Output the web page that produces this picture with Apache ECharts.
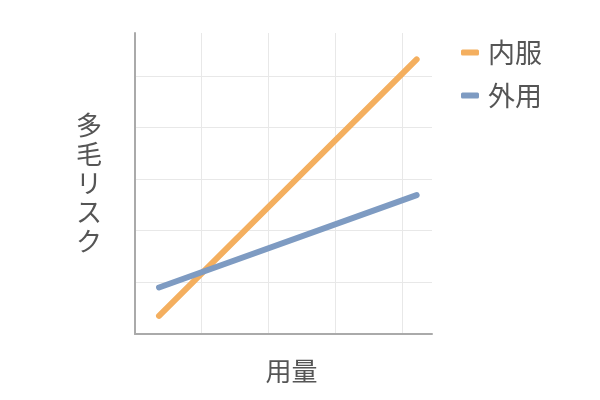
<!DOCTYPE html>
<html><head><meta charset="utf-8">
<script src="https://cdn.jsdelivr.net/npm/echarts@6/dist/echarts.min.js"></script>
<style>html,body{margin:0;padding:0;background:#fff}#c{width:600px;height:400px}</style>
</head><body><div id="c"></div>
<script>
const seriesNames = ['内服', '外用'];
const doseValues = [0.36, 4.22];
const oralRisk = [0.35, 5.32];
const topicalRisk = [0.9, 2.69];
const xTitle = '用量';
const yTitle = '多毛リスク';

const font = '"Noto Sans CJK JP", "Noto Sans", sans-serif';
const chart = echarts.init(document.getElementById('c'));
chart.setOption({
  animation: false,
  textStyle: { fontFamily: font },
  grid: { left: 135, right: 168, top: 33, bottom: 66 },
  legend: {
    orient: 'vertical', left: 456, top: 34,
    itemWidth: 18, itemHeight: 6, itemGap: 16,
    icon: 'roundRect',
    textStyle: { fontSize: 27, color: '#555', fontFamily: font, padding: [0, 0, 0, 4] },
    data: seriesNames
  },
  xAxis: {
    type: 'value', min: 0, max: 4.45, interval: 1,
    name: xTitle, nameLocation: 'middle', nameGap: 24,
    nameTextStyle: { fontSize: 26, color: '#555', fontFamily: font, verticalAlign: 'top', padding: [0, 0, 0, 16] },
    axisLine: { show: true, lineStyle: { color: '#aaa', width: 2 } },
    axisTick: { show: false }, axisLabel: { show: false },
    splitLine: { show: true, showMinLine: false, showMaxLine: false, lineStyle: { color: '#e8e8e8', width: 1 } }
  },
  yAxis: {
    type: 'value', min: 0, max: 5.83, interval: 1,
    name: yTitle.split('').join('\n'), nameLocation: 'middle', nameGap: 33, nameRotate: 0,
    nameTextStyle: { fontSize: 26, color: '#555', lineHeight: 29, fontFamily: font, padding: [8, 0, 0, 0] },
    axisLine: { show: true, lineStyle: { color: '#aaa', width: 2 } },
    axisTick: { show: false }, axisLabel: { show: false },
    splitLine: { show: true, showMinLine: false, showMaxLine: false, lineStyle: { color: '#e8e8e8', width: 1 } }
  },
  series: [
    { name: seriesNames[0], type: 'line', symbol: 'none', color: '#F4AF5F',
      lineStyle: { width: 6, cap: 'round', color: '#F4AF5F' },
      data: doseValues.map((x, i) => [x, oralRisk[i]]) },
    { name: seriesNames[1], type: 'line', symbol: 'none', color: '#7E9BC2',
      lineStyle: { width: 6, cap: 'round', color: '#7E9BC2' },
      data: doseValues.map((x, i) => [x, topicalRisk[i]]) }
  ]
});
</script></body></html>
